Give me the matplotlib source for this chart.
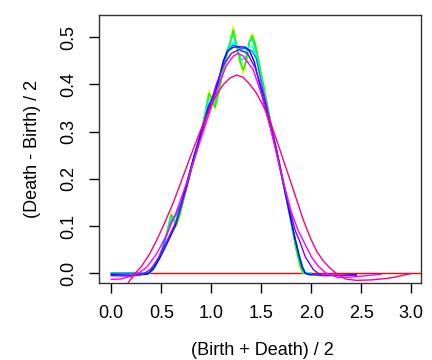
import matplotlib
matplotlib.use("Agg")
import matplotlib.pyplot as plt

plt.rcParams["font.family"] = ["Liberation Sans", "DejaVu Sans"]

# zero line
zero_x = [0.0, 3.2]
zero_y = [0.0, 0.0]

# sharpest curves (orange / yellow)
sharp_x = [0.0, 0.38, 0.42, 0.47, 0.52, 0.56, 0.60, 0.625, 0.647, 0.68, 0.74, 0.80, 0.87,
           0.93, 0.977, 1.005, 1.037, 1.07, 1.12, 1.17, 1.22, 1.25, 1.29, 1.32, 1.35, 1.38,
           1.41, 1.44, 1.47, 1.52, 1.58, 1.65, 1.72, 1.80, 1.85, 1.89, 1.92, 2.0]
sharp_y = [0.0, 0.0, 0.008, 0.03, 0.06, 0.09, 0.128, 0.115, 0.098, 0.12, 0.17, 0.22, 0.27,
           0.33, 0.386, 0.37, 0.348, 0.38, 0.431, 0.473, 0.522, 0.485, 0.445, 0.425, 0.45, 0.49,
           0.508, 0.485, 0.452, 0.40, 0.335, 0.265, 0.19, 0.105, 0.05, 0.015, 0.0, 0.0]

# green curves
green_y = [0.0, 0.0, 0.008, 0.03, 0.06, 0.09, 0.124, 0.115, 0.102, 0.12, 0.17, 0.22, 0.27,
           0.33, 0.381, 0.37, 0.352, 0.38, 0.431, 0.473, 0.515, 0.485, 0.448, 0.431, 0.45, 0.49,
           0.503, 0.485, 0.452, 0.40, 0.335, 0.265, 0.19, 0.105, 0.05, 0.015, 0.0, 0.0]

# cyan / spring green
cyan_x = [0.0, 0.38, 0.44, 0.50, 0.56, 0.60, 0.65, 0.70, 0.76, 0.83, 0.90, 0.97, 1.04, 1.10,
          1.16, 1.22, 1.26, 1.30, 1.34, 1.38, 1.41, 1.45, 1.50, 1.58, 1.66, 1.74, 1.82, 1.87,
          1.91, 1.94, 2.0]
spring_y = [0.0, 0.0, 0.015, 0.045, 0.085, 0.118, 0.112, 0.14, 0.195, 0.25, 0.30, 0.37, 0.362,
            0.43, 0.475, 0.505, 0.475, 0.452, 0.455, 0.49, 0.495, 0.465, 0.41, 0.33, 0.25, 0.17,
            0.09, 0.045, 0.015, 0.0, 0.0]
cyan_y = [0.0, 0.0, 0.015, 0.045, 0.085, 0.115, 0.12, 0.145, 0.195, 0.25, 0.30, 0.36, 0.375,
          0.43, 0.47, 0.49, 0.48, 0.47, 0.47, 0.48, 0.48, 0.46, 0.41, 0.33, 0.25, 0.17, 0.09,
          0.045, 0.015, 0.0, 0.0]
azure_y = [0.0, 0.0, 0.015, 0.045, 0.085, 0.11, 0.125, 0.15, 0.195, 0.25, 0.30, 0.355, 0.38,
           0.43, 0.47, 0.484, 0.48, 0.476, 0.476, 0.474, 0.47, 0.455, 0.405, 0.33, 0.25, 0.17,
           0.09, 0.045, 0.015, 0.0, -0.002]

# blue
blue_x = [0.0, 0.2, 0.36, 0.42, 0.48, 0.55, 0.64, 0.70, 0.76, 0.83, 0.90, 0.97, 1.04, 1.08,
          1.12, 1.16, 1.22, 1.28, 1.34, 1.38, 1.43, 1.49, 1.56, 1.64, 1.72, 1.80, 1.84, 1.88,
          1.91, 1.94, 1.98, 2.1, 2.3, 2.45]
blue_y = [-0.003, -0.004, -0.002, 0.01, 0.03, 0.06, 0.10, 0.145, 0.195, 0.25, 0.30, 0.35,
          0.385, 0.415, 0.45, 0.47, 0.479, 0.48, 0.479, 0.472, 0.448, 0.395, 0.335, 0.27, 0.19,
          0.11, 0.07, 0.035, 0.012, 0.0, -0.003, -0.004, -0.004, -0.003]

# violet
violet_x = [0.0, 0.2, 0.32, 0.40, 0.48, 0.56, 0.65, 0.75, 0.85, 0.95, 1.05, 1.12, 1.20, 1.28,
            1.36, 1.44, 1.52, 1.60, 1.68, 1.76, 1.84, 1.88, 1.94, 2.02, 2.1, 2.3, 2.45]
violet_y = [-0.005, -0.006, -0.002, 0.01, 0.035, 0.07, 0.11, 0.18, 0.26, 0.33, 0.40, 0.44,
            0.466, 0.474, 0.466, 0.435, 0.38, 0.31, 0.235, 0.155, 0.09, 0.07, 0.035, 0.008,
            -0.005, -0.005, -0.004]

# magenta
magenta_x = [0.0, 0.1, 0.2, 0.27, 0.35, 0.45, 0.55, 0.65, 0.75, 0.85, 0.95, 1.05, 1.15, 1.22,
             1.27, 1.32, 1.42, 1.50, 1.60, 1.70, 1.80, 1.87, 1.93, 2.0, 2.07, 2.15, 2.27, 2.4,
             2.55, 2.7]
magenta_y = [-0.013, -0.012, -0.006, 0.0, 0.012, 0.04, 0.08, 0.13, 0.19, 0.255, 0.32, 0.385,
             0.44, 0.46, 0.466, 0.46, 0.431, 0.38, 0.30, 0.21, 0.13, 0.09, 0.065, 0.035, 0.015,
             0.0, -0.009, -0.008, -0.005, -0.002]

# pink
pink_x = [0.10, 0.17, 0.237, 0.30, 0.38, 0.454, 0.54, 0.62, 0.70, 0.787, 0.887, 0.987, 1.05,
          1.12, 1.19, 1.253, 1.32, 1.387, 1.45, 1.52, 1.59, 1.654, 1.72, 1.787, 1.85, 1.92,
          1.99, 2.054, 2.12, 2.187, 2.25, 2.34, 2.45, 2.6, 2.75, 2.84, 2.92, 2.99]
pink_y = [-0.035, -0.02, 0.0, 0.014, 0.04, 0.07, 0.11, 0.15, 0.195, 0.245, 0.30, 0.35, 0.377,
          0.40, 0.414, 0.42, 0.415, 0.40, 0.382, 0.355, 0.32, 0.282, 0.24, 0.198, 0.158, 0.113,
          0.075, 0.047, 0.026, 0.011, 0.0, -0.012, -0.015, -0.014, -0.011, -0.008, -0.004, -0.001]

x_ticks = [0.0, 0.5, 1.0, 1.5, 2.0, 2.5, 3.0]
y_ticks = [0.0, 0.1, 0.2, 0.3, 0.4, 0.5]

fig = plt.figure(figsize=(4.32, 3.6), dpi=100)
ax = fig.add_axes([99 / 432, 1 - 283.3 / 360, 322 / 432, 268.3 / 360])

lw = 1.0
ax.plot(zero_x, zero_y, color="#FF0000", lw=lw)
ax.plot(sharp_x, sharp_y, color="#FF8000", lw=lw)
ax.plot(sharp_x, sharp_y, color="#FFFF00", lw=lw)
ax.plot(sharp_x, green_y, color="#80FF00", lw=lw)
ax.plot(sharp_x, green_y, color="#00FF00", lw=lw)
ax.plot(cyan_x, spring_y, color="#00FF80", lw=lw)
ax.plot(cyan_x, cyan_y, color="#00FFFF", lw=lw)
ax.plot(cyan_x, azure_y, color="#0080FF", lw=lw)
ax.plot(blue_x, blue_y, color="#0000FF", lw=lw)
ax.plot(violet_x, violet_y, color="#8000FF", lw=lw)
ax.plot(magenta_x, magenta_y, color="#FF00FF", lw=lw)
ax.plot(pink_x, pink_y, color="#FF0080", lw=lw)

ax.set_xlim(-0.123, 3.097)
ax.set_ylim(-0.0212, 0.5472)
ax.set_xticks(x_ticks)
ax.set_xticklabels([f"{v:.1f}" for v in x_ticks])
ax.set_yticks(y_ticks)
ax.set_yticklabels([f"{v:.1f}" for v in y_ticks], rotation=90, va="center")
ax.tick_params(axis="both", direction="out", length=7, width=1, pad=8.5, labelsize=13)

for s in ax.spines.values():
    s.set_linewidth(1)
    s.set_color("#333333")

ax.set_xlabel("(Birth + Death) / 2", fontsize=13)
ax.set_ylabel("(Death - Birth) / 2", fontsize=13)
ax.xaxis.set_label_coords(0.506, -0.249)
ax.xaxis.label.set_va("center")
ax.yaxis.set_label_coords(-0.205, 0.5)
ax.yaxis.label.set_va("center")

fig.savefig("out.png", dpi=100)
